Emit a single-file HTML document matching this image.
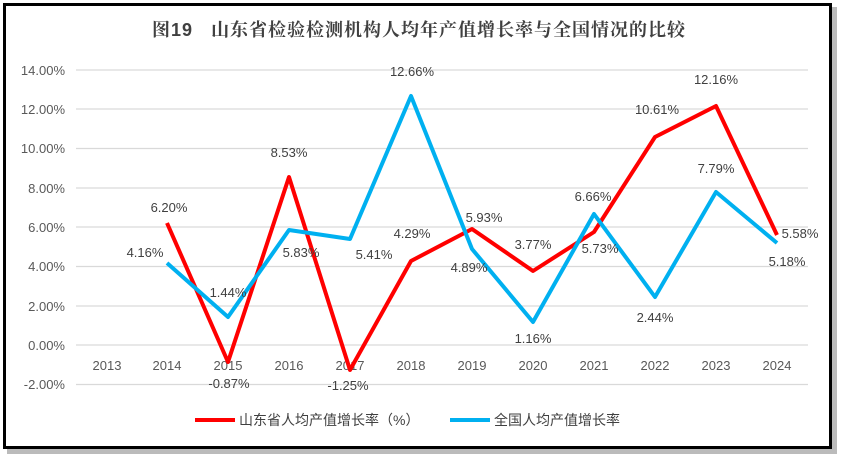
<!DOCTYPE html>
<html><head><meta charset="utf-8"><style>
body{margin:0;background:#fff;width:841px;height:460px;overflow:hidden}
</style></head><body>
<svg width="841" height="460" xmlns="http://www.w3.org/2000/svg" font-family="Liberation Sans, Noto Sans CJK SC, sans-serif">
<rect x="7" y="7" width="830" height="447" fill="#bbb"/>
<rect x="4.5" y="4.5" width="826" height="443" fill="#fff" stroke="#000" stroke-width="3"/>
<text x="152" y="36" font-size="18" font-weight="bold" fill="#404040" font-family="Liberation Sans, Noto Serif CJK SC, serif" style="white-space:pre" textLength="533">图19   山东省检验检测机构人均年产值增长率与全国情况的比较</text>
<g stroke="#d9d9d9" stroke-width="1.3">
<line x1="76" x2="808" y1="70" y2="70"/><line x1="76" x2="808" y1="109" y2="109"/>
<line x1="76" x2="808" y1="148.5" y2="148.5"/><line x1="76" x2="808" y1="188" y2="188"/>
<line x1="76" x2="808" y1="227" y2="227"/><line x1="76" x2="808" y1="266.5" y2="266.5"/>
<line x1="76" x2="808" y1="306" y2="306"/><line x1="76" x2="808" y1="345" y2="345"/>
<line x1="76" x2="808" y1="384.5" y2="384.5"/>
</g>
<g font-size="13" fill="#595959" text-anchor="end">
<text x="65" y="75">14.00%</text><text x="65" y="114">12.00%</text><text x="65" y="153">10.00%</text>
<text x="65" y="193">8.00%</text><text x="65" y="232">6.00%</text><text x="65" y="271">4.00%</text>
<text x="65" y="311">2.00%</text><text x="65" y="350">0.00%</text><text x="65" y="389">-2.00%</text>
</g>
<g font-size="13" fill="#595959" text-anchor="middle">
<text x="107" y="370">2013</text><text x="167" y="370">2014</text><text x="228" y="370">2015</text>
<text x="289" y="370">2016</text><text x="350" y="370">2017</text><text x="411" y="370">2018</text>
<text x="472" y="370">2019</text><text x="533" y="370">2020</text><text x="594" y="370">2021</text>
<text x="655" y="370">2022</text><text x="716" y="370">2023</text><text x="777" y="370">2024</text>
</g>
<polyline fill="none" stroke="#ff0000" stroke-width="4" stroke-linejoin="round" points="167,223 228,362 289,177 350,370 411,261 472,229 533,271 594,232 655,137 716,106 777,235"/>
<polyline fill="none" stroke="#00b0f0" stroke-width="4" stroke-linejoin="round" points="167,263 228,317 289,230 350,239 411,96 472,249 533,322 594,214 655,297 716,192 777,243"/>
<g font-size="13" fill="#404040" text-anchor="middle">
<text x="169" y="212">6.20%</text><text x="229" y="388">-0.87%</text><text x="289" y="157">8.53%</text>
<text x="348" y="390">-1.25%</text><text x="412" y="238">4.29%</text><text x="484" y="222">5.93%</text>
<text x="533" y="249">3.77%</text><text x="600" y="253">5.73%</text><text x="657" y="114">10.61%</text>
<text x="716" y="84">12.16%</text><text x="800" y="238">5.58%</text>
<text x="145" y="257">4.16%</text><text x="228" y="297">1.44%</text><text x="301" y="257">5.83%</text>
<text x="374" y="259">5.41%</text><text x="412" y="76">12.66%</text><text x="469" y="272">4.89%</text>
<text x="533" y="343">1.16%</text><text x="593" y="201">6.66%</text><text x="655" y="322">2.44%</text>
<text x="716" y="173">7.79%</text><text x="787" y="266">5.18%</text>
</g>
<line x1="195" x2="235" y1="420" y2="420" stroke="#ff0000" stroke-width="4"/>
<text x="239" y="425" font-size="14" fill="#404040">山东省人均产值增长率（%）</text>
<line x1="450" x2="490" y1="420" y2="420" stroke="#00b0f0" stroke-width="4"/>
<text x="494" y="425" font-size="14" fill="#404040">全国人均产值增长率</text>
</svg>
</body></html>
